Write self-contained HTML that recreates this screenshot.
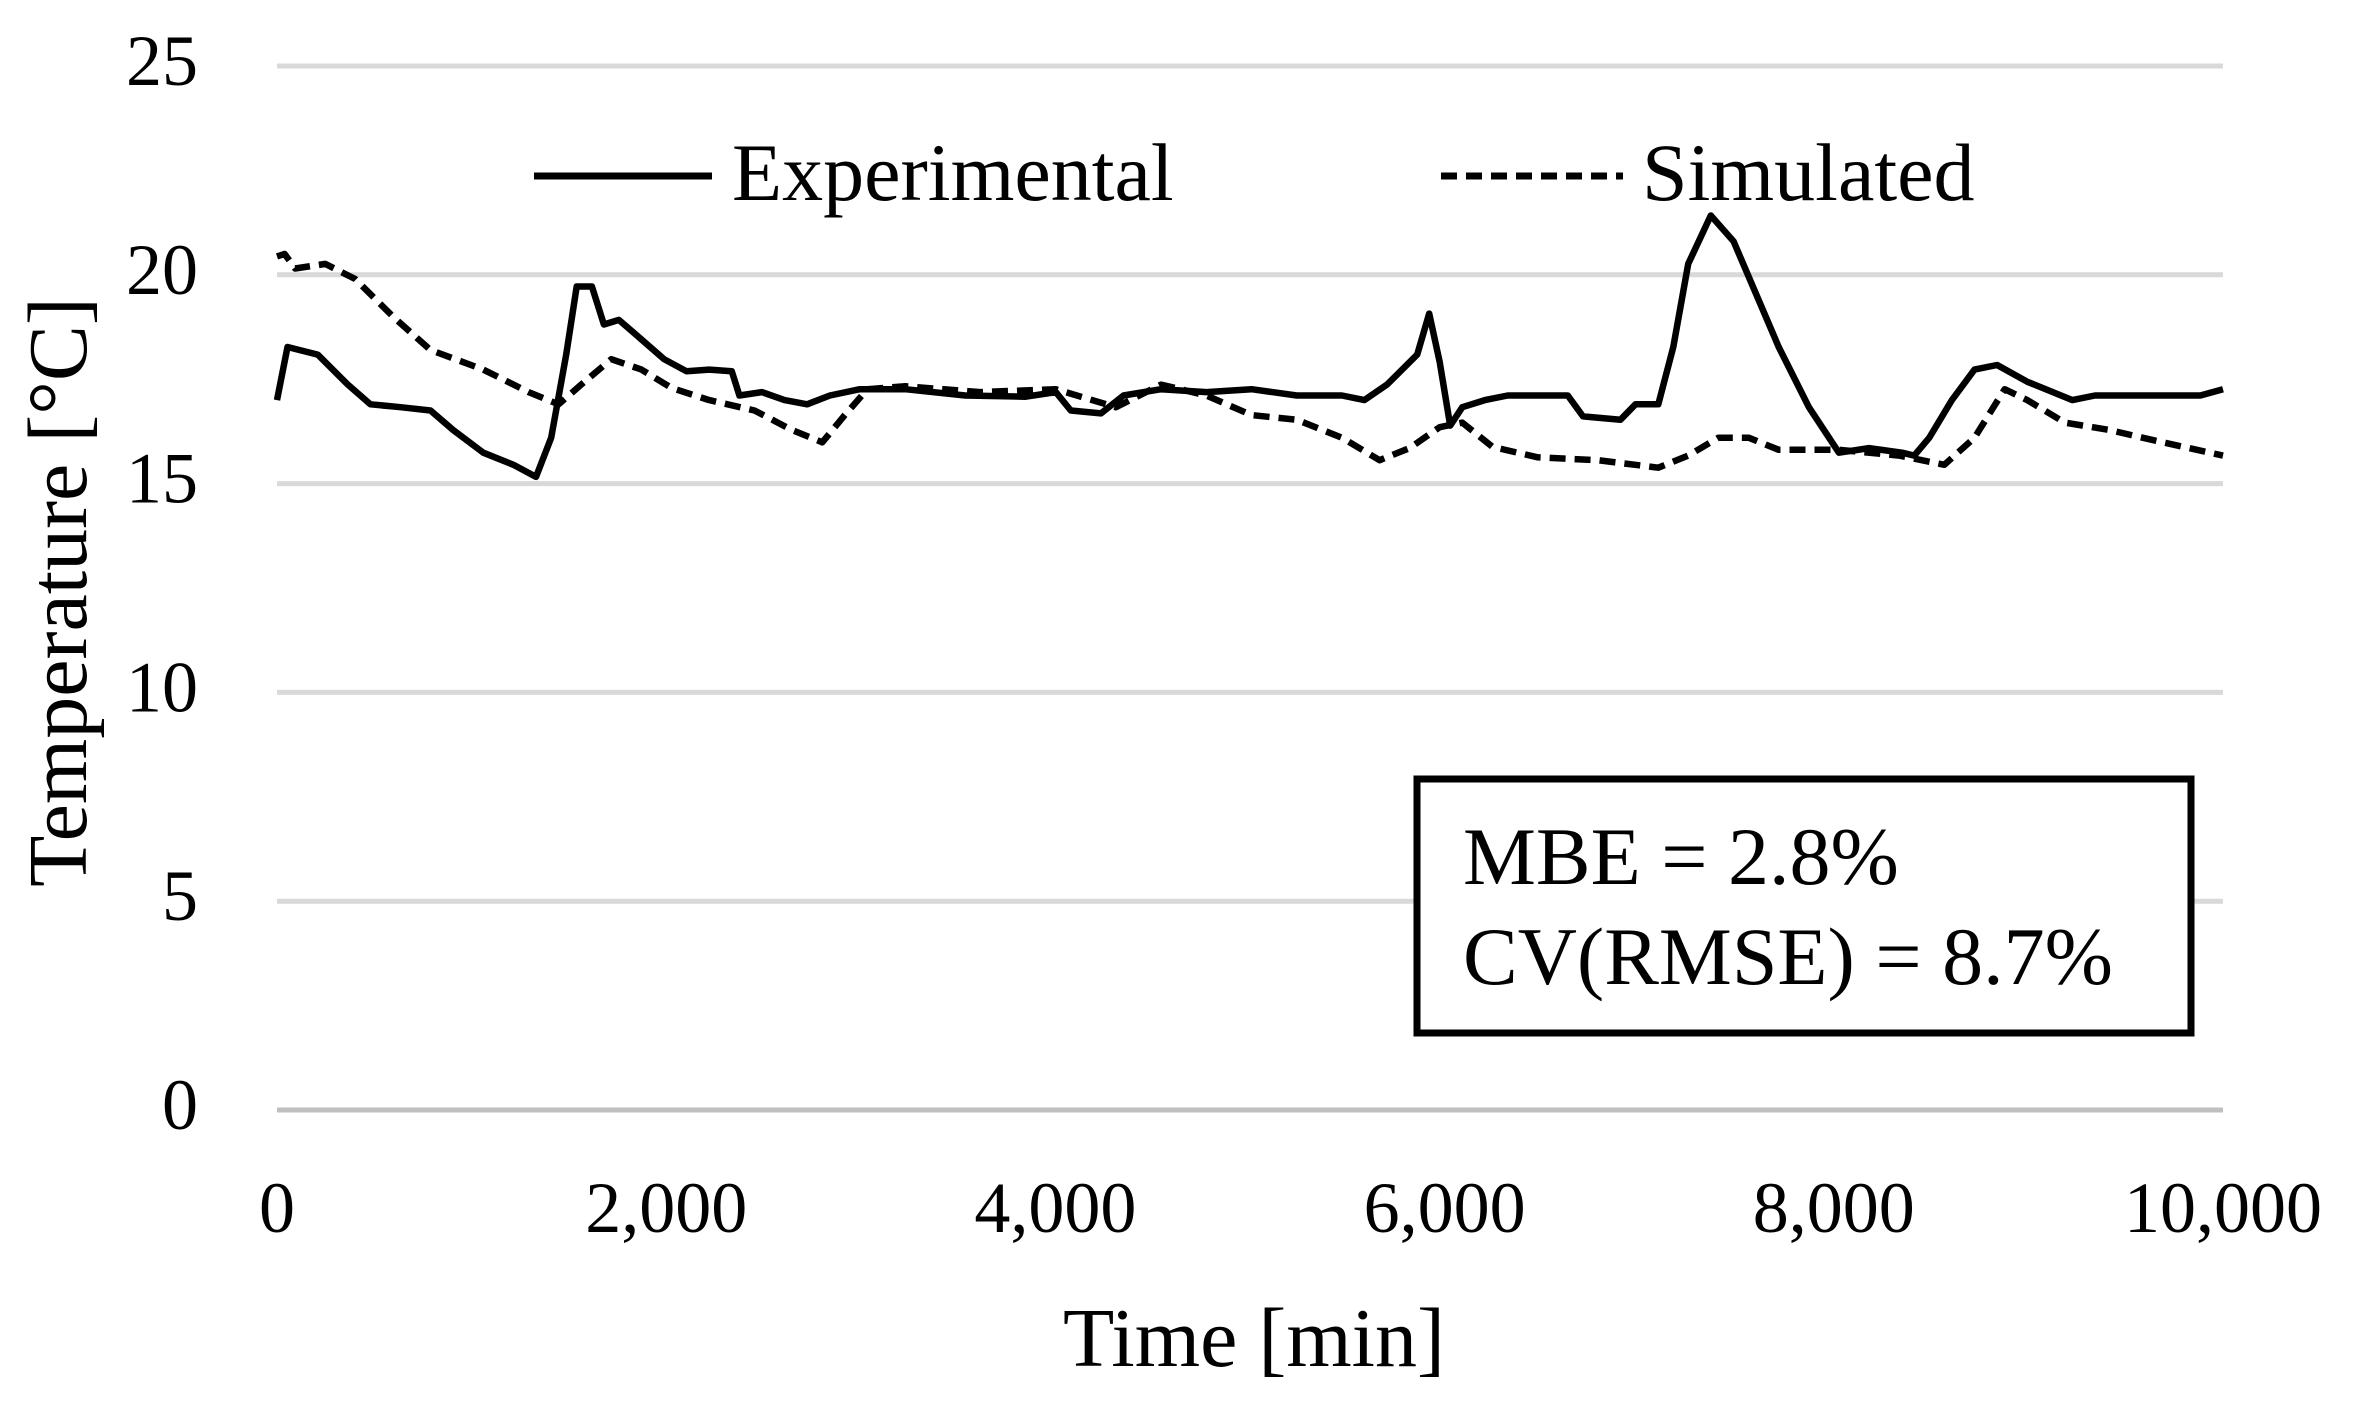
<!DOCTYPE html>
<html><head><meta charset="utf-8"><style>
html,body{margin:0;padding:0;background:#fff;}
svg{display:block;font-family:"Liberation Serif",serif;}
</style></head><body>
<svg id="chart" width="2364" height="1404" viewBox="0 0 2364 1404" xmlns="http://www.w3.org/2000/svg">
<g id="grid"></g>
<g id="yticks"></g>
<g id="xticks"></g>
<g id="series"></g>
<text x="0" y="0" font-size="84" text-anchor="middle" transform="translate(86,592) rotate(-90)">Temperature [°C]</text>
<text x="1254" y="1366" font-size="84" text-anchor="middle">Time [min]</text>
<g>
<g>
<line x1="534" y1="176" x2="712" y2="176" stroke="#000" stroke-width="7"/>
<text x="732" y="200" font-size="82">Experimental</text>
</g>
<g>
<line x1="1441" y1="176" x2="1623" y2="176" stroke="#000" stroke-width="7" stroke-dasharray="16,9"/>
<text x="1642" y="200" font-size="82">Simulated</text>
</g>
</g>
<g>
<rect x="1417" y="779" width="774" height="254" fill="#fff" stroke="#000" stroke-width="7"/>
<text x="1463" y="884" font-size="82">MBE = 2.8%</text>
<text x="1463" y="984" font-size="82">CV(RMSE) = 8.7%</text>
</g>
</svg>
<script>
const yTicks=[0,5,10,15,20,25];
const xTicks=[0,2000,4000,6000,8000,10000];
const xTickLabels=["0","2,000","4,000","6,000","8,000","10,000"];
const expTime=[0,54,209,364,480,635,789,906,1060,1215,1331,1409,1486,1540,1618,1680,1757,1873,1989,2105,2221,2337,2376,2492,2608,2724,2841,2995,3228,3537,3847,4002,4079,4234,4350,4543,4776,5008,5240,5472,5588,5704,5859,5921,5975,6029,6091,6207,6324,6633,6711,6904,6981,7098,7175,7252,7368,7485,7717,7872,8026,8181,8351,8413,8491,8607,8723,8839,8994,9226,9342,9574,9884,10000];
const expTemp=[17.0,18.27,18.09,17.37,16.9,16.83,16.75,16.28,15.74,15.45,15.16,16.1,18.09,19.72,19.72,18.81,18.92,18.45,17.98,17.69,17.73,17.69,17.11,17.19,17.0,16.9,17.11,17.26,17.26,17.11,17.08,17.19,16.75,16.68,17.11,17.26,17.19,17.26,17.11,17.11,17.0,17.37,18.09,19.07,17.91,16.39,16.83,17.0,17.11,17.11,16.61,16.53,16.9,16.9,18.27,20.26,21.42,20.8,18.27,16.83,15.74,15.85,15.74,15.67,16.1,17.0,17.73,17.84,17.44,17.0,17.11,17.11,17.11,17.26];
const simTime=[0,39,93,248,402,596,789,1060,1293,1447,1563,1718,1873,2028,2221,2454,2647,2802,2918,3034,3228,3615,4002,4311,4543,4776,5008,5240,5472,5666,5820,5975,6091,6246,6478,6788,7098,7252,7407,7562,7717,8026,8336,8568,8723,8878,8994,9187,9419,9651,10000];
const simTemp=[20.44,20.5,20.15,20.26,19.9,19.0,18.2,17.73,17.19,16.9,17.37,17.98,17.73,17.29,17.0,16.75,16.28,15.99,16.64,17.26,17.33,17.19,17.26,16.83,17.37,17.11,16.64,16.53,16.1,15.56,15.85,16.35,16.46,15.88,15.63,15.56,15.38,15.67,16.1,16.1,15.81,15.81,15.67,15.45,16.1,17.26,17.0,16.46,16.28,16.03,15.67];
const X0=277,X1=2223,Y0=1110,Y25=66;
const xs=t=>X0+(t/10000)*(X1-X0);
const ys=v=>Y0-(v/25)*(Y0-Y25);
const NS="http://www.w3.org/2000/svg";
const grid=document.getElementById('grid'),yt=document.getElementById('yticks'),xt=document.getElementById('xticks'),ser=document.getElementById('series');
yTicks.forEach(v=>{
const l=document.createElementNS(NS,'line');


l.setAttribute('x1',X0);l.setAttribute('x2',X1);l.setAttribute('y1',ys(v));l.setAttribute('y2',ys(v));
l.setAttribute('stroke',v===0?'#bfbfbf':'#d9d9d9');l.setAttribute('stroke-width','5');
grid.appendChild(l);
const t=document.createElementNS(NS,'text');


t.setAttribute('x',198);t.setAttribute('y',ys(v)+19);t.setAttribute('text-anchor','end');t.setAttribute('font-size','72');
t.textContent=String(v);yt.appendChild(t);
});
xTicks.forEach((v,i)=>{
const t=document.createElementNS(NS,'text');


t.setAttribute('x',xs(v));t.setAttribute('y',1232);t.setAttribute('text-anchor','middle');t.setAttribute('font-size','72');
t.textContent=xTickLabels[i];xt.appendChild(t);
});
function path(tArr,vArr,dash,name){
const p=document.createElementNS(NS,'path');


p.setAttribute('d',tArr.map((t,i)=>(i?'L':'M')+xs(t).toFixed(1)+','+ys(vArr[i]).toFixed(1)).join(''));
p.setAttribute('fill','none');p.setAttribute('stroke','#000');p.setAttribute('stroke-width','6.5');
p.setAttribute('stroke-linejoin','round');
if(dash)p.setAttribute('stroke-dasharray',dash);
ser.appendChild(p);
}
path(simTime,simTemp,'16,9','simulated-line');
path(expTime,expTemp,null,'experimental-line');
</script>
</body></html>
